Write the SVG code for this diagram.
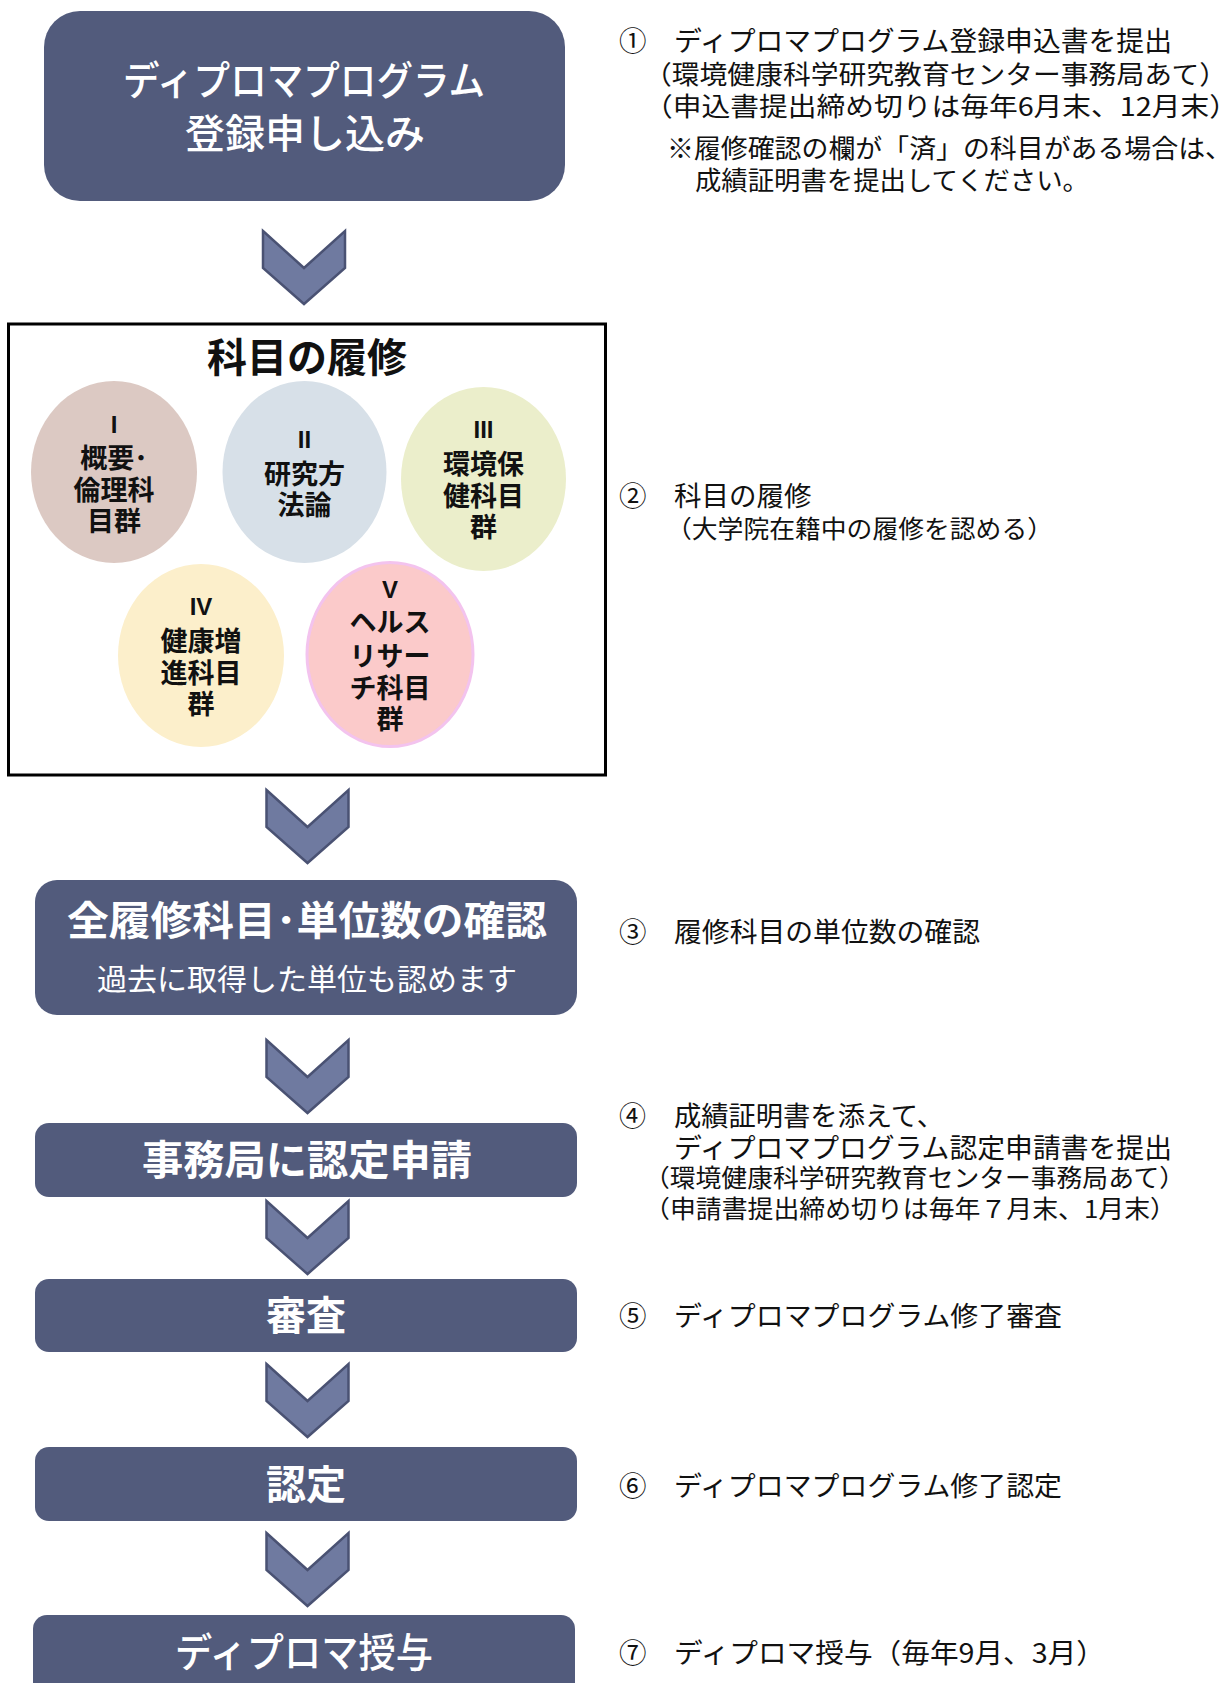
<svg xmlns="http://www.w3.org/2000/svg" xmlns:xlink="http://www.w3.org/1999/xlink" width="1222" height="1683" viewBox="0 0 1222 1683">
<style>
.box{fill:#525B7C}
.chev{fill:#6F7AA0;stroke:#4A5273;stroke-width:2.5;stroke-linejoin:miter}
.bt{font-family:"Noto Sans CJK JP","Noto Sans",sans-serif;fill:#ffffff;text-anchor:middle}
.ct{font-family:"Noto Sans CJK JP","Noto Sans",sans-serif;font-weight:700;fill:#111111;text-anchor:middle;font-size:27px}
.rn{font-family:"Liberation Sans","Noto Sans CJK JP",sans-serif;font-size:24px}
.rt{font-family:"Noto Sans CJK JP","Noto Sans",sans-serif;fill:#111111}
</style>
<defs>
<path id="chevShape" class="chev" d="M-41,0 L0,37 L41,0 L41,37 L0,73 L-41,37 Z"/>
</defs>
<rect width="1222" height="1683" fill="#ffffff"/>

<g id="connectors">
<use xlink:href="#chevShape" href="#chevShape" x="304" y="231"/>
<use xlink:href="#chevShape" href="#chevShape" x="307.5" y="790"/>
<use xlink:href="#chevShape" href="#chevShape" x="307.5" y="1040"/>
<use xlink:href="#chevShape" href="#chevShape" x="307.5" y="1201"/>
<use xlink:href="#chevShape" href="#chevShape" x="307.5" y="1364"/>
<use xlink:href="#chevShape" href="#chevShape" x="307.5" y="1533"/>
</g>

<g id="step1">
<rect class="box" x="44" y="11" width="521" height="190" rx="36"/>
<text class="bt" x="304" y="95" font-size="40" font-weight="500" textLength="362" lengthAdjust="spacingAndGlyphs">ディプロマプログラム</text>
<text class="bt" x="305" y="148" font-size="40" font-weight="500">登録申し込み</text>
</g>

<g id="step2">
<rect x="8.5" y="324" width="597" height="451" fill="#ffffff" stroke="#000000" stroke-width="3"/>
<text class="ct" x="307" y="372" style="font-size:40px">科目の履修</text>
</g>

<g id="group1">
<ellipse cx="114" cy="472" rx="83" ry="91" fill="#DCC9C3"/>
<text class="ct"><tspan class="rn" x="114" y="433">I</tspan><tspan x="114" y="468">概要･</tspan><tspan x="114" y="500">倫理科</tspan><tspan x="114" y="531">目群</tspan></text>
</g>
<g id="group2">
<ellipse cx="304.5" cy="472" rx="82" ry="91" fill="#D7E0E8"/>
<text class="ct"><tspan class="rn" x="304.5" y="448">II</tspan><tspan x="304.5" y="484">研究方</tspan><tspan x="304.5" y="515">法論</tspan></text>
</g>
<g id="group3">
<ellipse cx="483.5" cy="479" rx="82.5" ry="92" fill="#EBEECB"/>
<text class="ct"><tspan class="rn" x="483.5" y="438">III</tspan><tspan x="483.5" y="474">環境保</tspan><tspan x="483.5" y="506">健科目</tspan><tspan x="483.5" y="537">群</tspan></text>
</g>
<g id="group4">
<ellipse cx="201" cy="655.5" rx="83" ry="91.5" fill="#FCEFCB"/>
<text class="ct"><tspan class="rn" x="201" y="615">IV</tspan><tspan x="201" y="651">健康増</tspan><tspan x="201" y="683">進科目</tspan><tspan x="201" y="714">群</tspan></text>
</g>
<g id="group5">
<ellipse cx="390" cy="654.5" rx="83" ry="92" fill="#FBCACA" stroke="#F3C3EE" stroke-width="3"/>
<text class="ct"><tspan class="rn" x="390" y="598">V</tspan><tspan x="390" y="632">ヘルス</tspan><tspan x="390" y="666">リサー</tspan><tspan x="390" y="698">チ科目</tspan><tspan x="390" y="729">群</tspan></text>
</g>

<g id="step3">
<rect class="box" x="35" y="880" width="542" height="135" rx="22"/>
<text class="bt" x="307" y="935" font-size="40" font-weight="700" textLength="480" lengthAdjust="spacingAndGlyphs">全履修科目･単位数の確認</text>
<text class="bt" x="307" y="990" font-size="30" textLength="420" lengthAdjust="spacingAndGlyphs">過去に取得した単位も認めます</text>
</g>

<g id="step4">
<rect class="box" x="35" y="1123" width="542" height="74" rx="14"/>
<text class="bt" x="307" y="1175" font-size="41" font-weight="700" textLength="330" lengthAdjust="spacingAndGlyphs">事務局に認定申請</text>
</g>

<g id="step5">
<rect class="box" x="35" y="1279" width="542" height="73" rx="14"/>
<text class="bt" x="306" y="1330" font-size="40" font-weight="700">審査</text>
</g>

<g id="step6">
<rect class="box" x="35" y="1447" width="542" height="74" rx="14"/>
<text class="bt" x="306" y="1499" font-size="40" font-weight="700">認定</text>
</g>

<g id="step7">
<rect class="box" x="33" y="1615" width="542" height="90" rx="14"/>
<text class="bt" x="304" y="1667" font-size="40" font-weight="500" textLength="258" lengthAdjust="spacingAndGlyphs">ディプロマ授与</text>
</g>

<g id="notes">
<text class="rt" y="51" font-size="27.5"><tspan x="619">①</tspan><tspan x="674" textLength="498" lengthAdjust="spacingAndGlyphs">ディプロマプログラム登録申込書を提出</tspan></text>
<text class="rt" x="644" y="84" font-size="26" textLength="583" lengthAdjust="spacingAndGlyphs">（環境健康科学研究教育センター事務局あて）</text>
<text class="rt" x="644" y="116" font-size="26" textLength="594" lengthAdjust="spacingAndGlyphs">（申込書提出締め切りは毎年6月末、12月末）</text>
<text class="rt" x="667" y="158" font-size="26" textLength="565" lengthAdjust="spacingAndGlyphs">※履修確認の欄が「済」の科目がある場合は、</text>
<text class="rt" x="695" y="190" font-size="26" textLength="394" lengthAdjust="spacingAndGlyphs">成績証明書を提出してください。</text>

<text class="rt" y="506" font-size="27.5"><tspan x="619">②</tspan><tspan x="674">科目の履修</tspan></text>
<text class="rt" x="666" y="538" font-size="24.5" textLength="387" lengthAdjust="spacingAndGlyphs">（大学院在籍中の履修を認める）</text>

<text class="rt" y="942" font-size="27.5"><tspan x="619">③</tspan><tspan x="674" textLength="306" lengthAdjust="spacingAndGlyphs">履修科目の単位数の確認</tspan></text>

<text class="rt" y="1126" font-size="27"><tspan x="619">④</tspan><tspan x="674" textLength="270" lengthAdjust="spacingAndGlyphs">成績証明書を添えて、</tspan></text>
<text class="rt" x="674" y="1158" font-size="27.5" textLength="498" lengthAdjust="spacingAndGlyphs">ディプロマプログラム認定申請書を提出</text>
<text class="rt" x="644" y="1187" font-size="24.5" textLength="541" lengthAdjust="spacingAndGlyphs">（環境健康科学研究教育センター事務局あて）</text>
<text class="rt" x="644" y="1218" font-size="24.5" textLength="532" lengthAdjust="spacingAndGlyphs">（申請書提出締め切りは毎年７月末、1月末）</text>

<text class="rt" y="1326" font-size="27.5"><tspan x="619">⑤</tspan><tspan x="674" textLength="388" lengthAdjust="spacingAndGlyphs">ディプロマプログラム修了審査</tspan></text>
<text class="rt" y="1496" font-size="27.5"><tspan x="619">⑥</tspan><tspan x="674" textLength="388" lengthAdjust="spacingAndGlyphs">ディプロマプログラム修了認定</tspan></text>
<text class="rt" y="1663" font-size="27.5"><tspan x="619">⑦</tspan><tspan x="674" textLength="431" lengthAdjust="spacingAndGlyphs">ディプロマ授与（毎年9月、3月）</tspan></text>
</g>
</svg>
